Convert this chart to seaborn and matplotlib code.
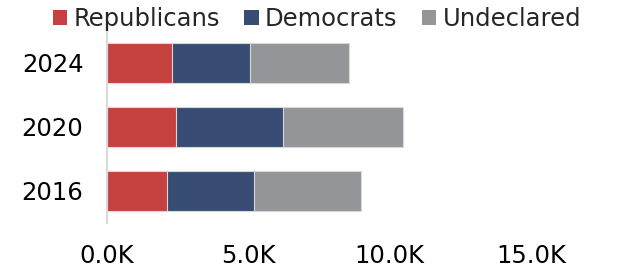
import matplotlib
matplotlib.use('Agg')
import matplotlib.pyplot as plt
import seaborn as sns
import pandas as pd
from matplotlib.ticker import FuncFormatter
from matplotlib.patches import Patch

years = ['2024', '2020', '2016']
republicans = [2290, 2430, 2110]
democrats = [2760, 3800, 3090]
undeclared = [3510, 4240, 3800]
series_names = ['Republicans', 'Democrats', 'Undeclared']
colors = ['#C4413F', '#384C74', '#949598']
x_ticks = [0, 5000, 10000, 15000]

sns.set_theme(style='white')
plt.rcParams['font.family'] = ['DejaVu Sans']

df = pd.DataFrame({'year': years, 'rep': republicans, 'dem': democrats, 'und': undeclared})
df['rd'] = df['rep'] + df['dem']
df['total'] = df['rd'] + df['und']

fig = plt.figure(figsize=(6.26, 2.67), dpi=100)
ax = fig.add_axes([107 / 626, 1 - 222.7 / 267, (531 - 107) / 626, (222.7 - 30.5) / 267])

for col, color in zip(['total', 'rd', 'rep'], colors[::-1]):
    sns.barplot(data=df, x=col, y='year', order=years, color=color, width=0.625,
                saturation=1, edgecolor='#d8d8d8', linewidth=0.8, ax=ax, errorbar=None)

ax.set_xlim(0, 15000)
ax.set_xticks(x_ticks)
ax.xaxis.set_major_formatter(FuncFormatter(lambda v, p: f"{v/1000:.1f}K"))
ax.set_xlabel('')
ax.set_ylabel('')
for s in ['top', 'right', 'bottom']:
    ax.spines[s].set_visible(False)
ax.spines['left'].set_color('#d9d9d9')
ax.spines['left'].set_linewidth(1.5)
ax.tick_params(axis='x', length=0, labelsize=17.5, pad=15, colors='black')
ax.tick_params(axis='y', length=0, labelsize=17.5, pad=17, colors='black')

handles = [Patch(facecolor=c, edgecolor='none', label=n) for c, n in zip(colors, series_names)]
fig.legend(handles=handles, loc='center', bbox_to_anchor=(317 / 626, 1 - 19 / 267), ncol=3,
           frameon=False, fontsize=17.5, handlelength=0.6, handleheight=0.55,
           handletextpad=0.25, columnspacing=1.0, borderaxespad=0, borderpad=0)

fig.savefig('out.png', dpi=100)
